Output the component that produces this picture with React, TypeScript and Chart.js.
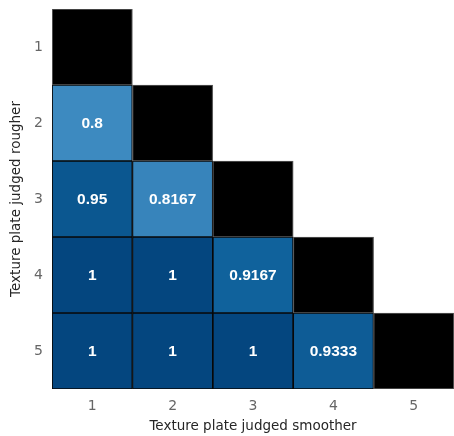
import React, { useEffect, useRef } from "react";
import { Chart, registerables } from "chart.js";

Chart.register(...registerables);

const xLabels = ["1", "2", "3", "4", "5"];
const yTicks = [1, 2, 3, 4, 5];
// rows: texture plate judged rougher (1..5); columns: judged smoother (1..5)
// null = upper triangle (empty), "diag" = diagonal (black)
const row1: (number | null | "diag")[] = ["diag", null, null, null, null];
const row2: (number | null | "diag")[] = [0.8, "diag", null, null, null];
const row3: (number | null | "diag")[] = [0.95, 0.8167, "diag", null, null];
const row4: (number | null | "diag")[] = [1, 1, 0.9167, "diag", null];
const row5: (number | null | "diag")[] = [1, 1, 1, 0.9333, "diag"];
const rows = [row1, row2, row3, row4, row5];

const xTitle = "Texture plate judged smoother";
const yTitle = "Texture plate judged rougher";

// colour anchors (value -> rgb)
const colorStops: [number, number[]][] = [
  [0.8, [61, 138, 192]],
  [0.9167, [16, 98, 156]],
  [1, [4, 70, 127]],
];

function colorFor(v: number): string {
  if (v <= colorStops[0][0]) return `rgb(${colorStops[0][1].join(",")})`;
  for (let i = 1; i < colorStops.length; i++) {
    const [v1, c1] = colorStops[i];
    const [v0, c0] = colorStops[i - 1];
    if (v <= v1) {
      const t = (v - v0) / (v1 - v0);
      const c = c0.map((a, k) => Math.round(a + (c1[k] - a) * t));
      return `rgb(${c.join(",")})`;
    }
  }
  return `rgb(${colorStops[colorStops.length - 1][1].join(",")})`;
}

function fmt(v: number): string {
  return String(v);
}

export default function App() {
  const ref = useRef<HTMLCanvasElement>(null);
  useEffect(() => {
    const canvas = ref.current!;
    const datasets = rows.map((row, r) => {
      const yv = yTicks[r];
      return {
        label: "row " + yv,
        data: row.map((cell) => (cell === null ? null : [yv - 0.5, yv + 0.5])) as any,
        backgroundColor: row.map((cell) =>
          cell === "diag" ? "#000000" : typeof cell === "number" ? colorFor(cell) : "rgba(0,0,0,0)"
        ),
        borderColor: row.map((cell) => (cell === "diag" ? "#5a5a5a" : "#080808")),
        borderWidth: 1.2,
        borderSkipped: false as any,
        barPercentage: 1,
        categoryPercentage: 1,
        grouped: false,
      };
    });

    const labelPlugin = {
      id: "cellLabels",
      afterDatasetsDraw(chart: any) {
        const ctx = chart.ctx;
        ctx.save();
        ctx.fillStyle = "#ffffff";
        ctx.font = "bold 15.5px 'Liberation Sans', Arial, sans-serif";
        ctx.textAlign = "center";
        ctx.textBaseline = "middle";
        rows.forEach((row, r) => {
          const meta = chart.getDatasetMeta(r);
          row.forEach((cell, c) => {
            if (typeof cell !== "number") return;
            const el = meta.data[c];
            const cx = el.x;
            const cy = (el.y + el.base) / 2;
            ctx.fillText(fmt(cell), cx, cy + 1);
          });
        });
        ctx.restore();
      },
    };

    const chart = new Chart(canvas, {
      type: "bar",
      data: { labels: xLabels, datasets },
      options: {
        animation: false,
        responsive: false,
        maintainAspectRatio: false,
        layout: { padding: { top: 9, right: 0, left: 0, bottom: 0 } },
        plugins: { legend: { display: false }, tooltip: { enabled: false } },
        scales: {
          x: {
            type: "category",
            position: "bottom",
            grid: { display: false, drawTicks: false },
            border: { display: false },
            ticks: {
              color: "#666666",
              padding: 9,
              font: { family: "'DejaVu Sans'", size: 14 },
            },
            title: {
              display: true,
              text: xTitle,
              color: "#262626",
              font: { family: "'DejaVu Sans'", size: 13.5, lineHeight: 1.2 },
              padding: { top: 2, bottom: 1 },
            },
            afterFit(scale: any) {
              scale.height = 47;
              scale.paddingLeft = 0;
              scale.paddingRight = 0;
            },
          },
          y: {
            type: "linear",
            reverse: true,
            min: 0.5,
            max: 5.5,
            grid: { display: false, drawTicks: false },
            border: { display: false },
            afterBuildTicks(scale: any) {
              scale.ticks = yTicks.map((v) => ({ value: v }));
            },
            ticks: {
              color: "#666666",
              padding: 9,
              font: { family: "'DejaVu Sans'", size: 14 },
              callback: (v: any) => String(v),
            },
            title: {
              display: true,
              text: yTitle,
              color: "#262626",
              font: { family: "'DejaVu Sans'", size: 13.5, lineHeight: 1.2 },
              padding: { top: 8, bottom: 2 },
            },
            afterFit(scale: any) {
              scale.width = 52;
              scale.paddingTop = 0;
              scale.paddingBottom = 0;
            },
          },
        },
      },
      plugins: [labelPlugin],
    });
    return () => chart.destroy();
  }, []);

  return (
    <div style={{ position: "fixed", left: 0, top: 0, width: 454, height: 436, background: "#fff" }}>
      <canvas ref={ref} width={454} height={436} style={{ display: "block", width: 454, height: 436 }} />
    </div>
  );
}
